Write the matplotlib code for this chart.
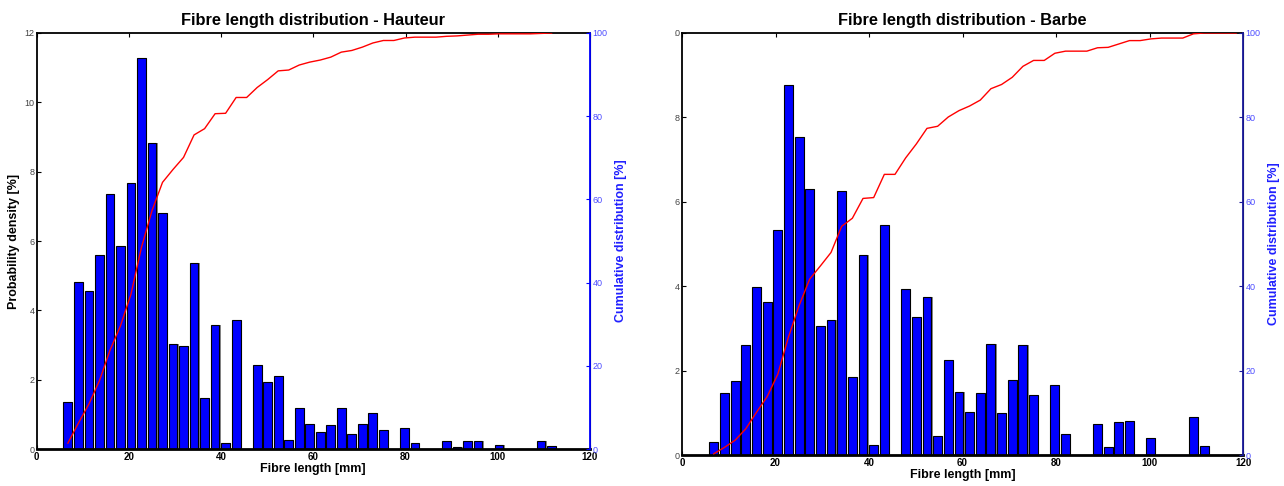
import numpy as np
import matplotlib
matplotlib.use('Agg')
import matplotlib.pyplot as plt
from matplotlib.transforms import Bbox, TransformedBbox

plt.rcParams['font.family'] = ['Liberation Sans', 'DejaVu Sans']

# histogram bins (mm)
bin_start = 6.8
bin_width = 2.28

# probability density [%] per bin
dens_hauteur = [1.37, 4.82, 4.57, 5.61, 7.35, 5.86, 7.66, 11.28, 8.82, 6.80,
                3.02, 2.97, 5.36, 1.48, 3.59, 0.18, 3.71, 0.0, 2.42, 1.92,
                2.10, 0.25, 1.17, 0.73, 0.50, 0.68, 1.17, 0.44, 0.73, 1.05,
                0.56, 0.0, 0.62, 0.18, 0.0, 0.0, 0.24, 0.07, 0.24, 0.24,
                0.0, 0.125, 0.0, 0.0, 0.0, 0.24, 0.08]
cum_hauteur = [1.4, 6.2, 10.8, 16.4, 23.7, 29.6, 37.2, 48.5, 57.3, 64.1,
               67.2, 70.1, 75.5, 77.0, 80.6, 80.7, 84.5, 84.5, 86.9, 88.8,
               90.9, 91.1, 92.3, 93.0, 93.5, 94.2, 95.4, 95.8, 96.6, 97.6,
               98.2, 98.2, 98.8, 99.0, 99.0, 99.0, 99.2, 99.3, 99.5, 99.7,
               99.7, 99.8, 99.8, 99.8, 99.8, 99.9, 100.0]

dens_barbe = [0.30, 1.48, 1.76, 2.61, 3.98, 3.63, 5.34, 8.76, 7.54, 6.31,
              3.05, 3.21, 6.25, 1.84, 4.73, 0.24, 5.46, 0.0, 3.93, 3.26,
              3.75, 0.45, 2.26, 1.49, 1.03, 1.46, 2.64, 0.99, 1.77, 2.61,
              1.41, 0.0, 1.67, 0.50, 0.0, 0.0, 0.74, 0.18, 0.78, 0.80,
              0.0, 0.40, 0.0, 0.0, 0.0, 0.91, 0.22, 0.0, 0.0, 0.0]
cum_barbe = [0.3, 1.8, 3.5, 6.2, 10.1, 13.8, 19.1, 27.9, 35.4, 41.7,
             44.8, 48.0, 54.2, 56.1, 60.8, 61.0, 66.5, 66.5, 70.4, 73.7,
             77.4, 77.9, 80.1, 81.6, 82.7, 84.1, 86.8, 87.8, 89.5, 92.1,
             93.5, 93.5, 95.2, 95.7, 95.7, 95.7, 96.5, 96.6, 97.4, 98.2,
             98.2, 98.6, 98.8, 98.8, 98.8, 99.8, 100.0, 100.0, 100.0, 100.0]

W, H = 1284, 486
fig = plt.figure(figsize=(W / 100, H / 100), dpi=100)


def draw(rect, dens, cum, title, ymax, right_col, left_label):
    ax = fig.add_axes(rect)
    x = bin_start + bin_width * np.arange(len(dens))
    # grey shadow then blue bars
    ax.bar(x + 0.25, dens, width=1.9, color='#8a8a8a', edgecolor='none', zorder=1)
    ax.bar(x, dens, width=1.9, color='#0000ff', edgecolor='black', linewidth=0.8, zorder=2)
    ax.set_xlim(0, 120)
    ax.set_ylim(0, ymax)
    ax.set_xticks(range(0, 121, 20))
    ax.set_yticks(range(0, ymax + 1, 2))
    ax.tick_params(direction='in', top=True, right=True, length=3, width=0.8, pad=2)
    ax.tick_params(axis='x', labelsize=7)
    ax.tick_params(axis='y', labelsize=6.5, labelcolor='#444444', pad=1.5)
    for lbl in ax.get_xticklabels():
        lbl.set_fontweight('bold')
    for s in ['left', 'top']:
        ax.spines[s].set_linewidth(1.3)
    ax.spines['bottom'].set_linewidth(2)
    ax.set_xlabel('Fibre length [mm]', fontsize=9, fontweight='bold', labelpad=1)
    if left_label:
        ax.set_ylabel('Probability density [%]', fontsize=9, fontweight='bold', labelpad=3)
    ax.set_title(title, fontsize=11.8, fontweight='bold', pad=6)

    ax2 = ax.twinx()
    ax2.plot(x[:len(cum)], cum, color='#ff0000', linewidth=1)
    ax2.set_ylim(0, 100)
    ax2.set_yticks(range(0, 101, 20))
    ax2.tick_params(direction='in', length=3, width=0.8, color=right_col,
                    labelsize=6.5, labelcolor='#4d4dff', pad=2)
    ax2.spines['right'].set_color(right_col)
    ax2.spines['right'].set_linewidth(1.3)
    for s in ['left', 'top', 'bottom']:
        ax2.spines[s].set_visible(False)
    ax2.set_ylabel('Cumulative distribution [%]', fontsize=9, fontweight='bold',
                   color='#2020ff', labelpad=5)
    return ax


draw([36.5 / W, 37 / H, 553.5 / W, 416 / H], dens_hauteur, cum_hauteur,
     'Fibre length distribution - Hauteur', 12, '#0000ff', True)
axr = draw([682 / W, 31 / H, 561 / W, 422 / H], dens_barbe, cum_barbe,
           'Fibre length distribution - Barbe', 10, '#1a1a9c', False)

# the right panel is cut on its left side in the original
clip = TransformedBbox(Bbox.from_extents(675 / W, 0, 1, 1), fig.transFigure)
for lbl in axr.get_yticklabels():
    lbl.set_clip_box(clip)
    lbl.set_clip_on(True)

fig.savefig('out.png', dpi=100)
